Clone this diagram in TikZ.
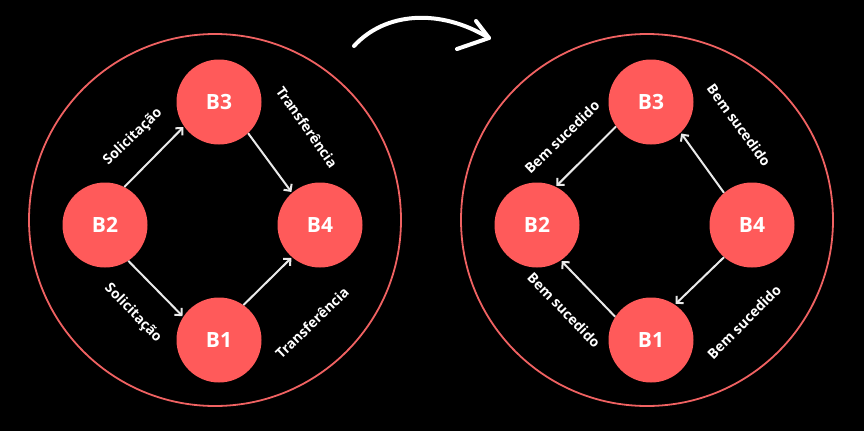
\documentclass[tikz,border=0pt]{standalone}
\usepackage{fontspec}
\setmainfont{Open Sans}
\usetikzlibrary{arrows.meta}
\definecolor{nodered}{HTML}{FF5A5A}
\definecolor{ringred}{HTML}{F06262}
\definecolor{arrowgray}{HTML}{EAEAEA}
\tikzset{
  bnode/.style={circle, fill=nodered, minimum size=85pt, inner sep=0pt, text=white, font=\bfseries\fontsize{21}{24}\selectfont},
  ring/.style={draw=ringred, line width=1.8pt},
  link/.style={draw=arrowgray, line width=2pt, -{Straight Barb[length=5pt,width=10pt,line width=2pt]}, shorten >=1pt},
  lbl/.style={text=white, font=\bfseries\fontsize{14}{16}\selectfont, inner sep=0pt},
  bigarrow/.style={draw=white, line width=4pt, line cap=round, line join=round}
}
\begin{document}
\begin{tikzpicture}[x=1pt,y=-1pt]
\fill[black] (0,0) rectangle (864,431);
\useasboundingbox (0,0) rectangle (864,431);

% Left diagram
\node[ring, circle, minimum size=372pt, inner sep=0pt] (ringL) at (215,220) {};
\node[bnode] (L3) at (219,102) {B3};
\node[bnode] (L2) at (105,225) {B2};
\node[bnode] (L4) at (320,225) {B4};
\node[bnode] (L1) at (219,340) {B1};
\draw[link] (L2.63) -- (L3.215);
\draw[link] (L3.313) -- (L4.131);
\draw[link] (L2.303) -- (L1.147);
\draw[link] (L1.55) -- (L4.229);
\node[lbl, rotate=44] (tL1) at (133,137) {Solicitação};
\node[lbl, rotate=-46] (tL2) at (133,313) {Solicitação};
\node[lbl, rotate=-55] (tL3) at (307,127) {Transferência};
\node[lbl, rotate=44] (tL4) at (312,323) {Transferência};

% Right diagram
\node[ring, circle, minimum size=372pt, inner sep=0pt] (ringR) at (647,220) {};
\node[bnode] (R3) at (651,102) {B3};
\node[bnode] (R2) at (537,225) {B2};
\node[bnode] (R4) at (752,225) {B4};
\node[bnode] (R1) at (651,340) {B1};
\draw[link] (R3.215) -- (R2.64);
\draw[link] (R4.131) -- (R3.314);
\draw[link] (R4.229) -- (R1.56);
\draw[link] (R1.147) -- (R2.304);
\node[lbl, rotate=44] (tR1) at (562,137) {Bem sucedido};
\node[lbl, rotate=-46] (tR2) at (564,310) {Bem sucedido};
\node[lbl, rotate=-54] (tR3) at (739,125) {Bem sucedido};
\node[lbl, rotate=45] (tR4) at (744,322) {Bem sucedido};

% Big curved arrow
\coordinate (aS) at (354,46);
\coordinate (aT) at (489,38);
\coordinate (aB1) at (476,21);
\coordinate (aB2) at (457,49);
\draw[bigarrow] (aS) .. controls (385,12) and (440,8) .. (aT);
\draw[bigarrow] (aB1) -- (aT) -- (aB2);
\end{tikzpicture}
\end{document}
